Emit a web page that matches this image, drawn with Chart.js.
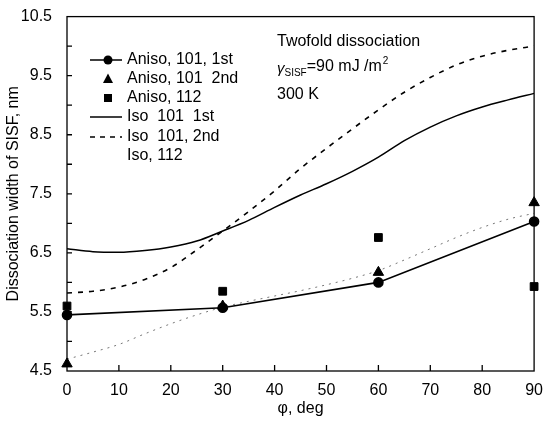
<!DOCTYPE html>
<html>
<head>
<meta charset="utf-8">
<script src="https://cdn.jsdelivr.net/npm/chart.js@4.4.1/dist/chart.umd.min.js"></script>
<style>
  html, body { margin: 0; padding: 0; background: #fff; }
  #wrap { width: 545px; height: 422px; }
</style>
</head>
<body>
<div id="wrap"><canvas id="chart" width="545" height="422"></canvas></div>
<script>
// measured points (phi, deg)
const anisoX = [0, 30, 60, 90];
const aniso101First = [5.45, 5.57, 6.0, 7.03];
const aniso101Second = [4.62, 5.6, 6.17, 7.35];
const aniso112 = [5.6, 5.85, 6.76, 5.93];

// model curves
const isoX = [0, 5, 10, 15, 20, 25, 30, 35, 40, 45, 50, 55, 60, 65, 70, 75, 80, 85, 90];
const iso101First = [6.57, 6.52, 6.51, 6.54, 6.6, 6.7, 6.87, 7.05, 7.27, 7.48, 7.67, 7.88, 8.12, 8.4, 8.63, 8.82, 8.97, 9.09, 9.2];
const iso101Second = [5.82, 5.85, 5.92, 6.05, 6.25, 6.55, 6.87, 7.2, 7.55, 7.93, 8.27, 8.6, 8.92, 9.22, 9.47, 9.68, 9.83, 9.93, 10.0];
const iso112 = [4.7, 4.82, 4.95, 5.13, 5.3, 5.45, 5.58, 5.68, 5.77, 5.86, 5.96, 6.07, 6.2, 6.38, 6.57, 6.76, 6.93, 7.07, 7.17];

const legendLabels = ['Aniso, 101, 1st', 'Aniso, 101  2nd', 'Aniso, 112', 'Iso  101  1st', 'Iso  101, 2nd', 'Iso, 112'];
const noteLines = ['Twofold dissociation', '300 K'];

const FONT = '"Liberation Sans", Arial, sans-serif';

function pairs(xs, ys) {
    return xs.map((x, i) => ({ x: x, y: ys[i] }));
}

// frame and inward tick marks
const framePlugin = {
    id: 'frame',
    afterDraw(chart) {
        const ctx = chart.ctx;
        const a = chart.chartArea;
        const xs = chart.scales.x;
        const ys = chart.scales.y;
        ctx.save();
        ctx.strokeStyle = '#000';
        ctx.lineWidth = 1.3;
        ctx.strokeRect(a.left, a.top, a.right - a.left, a.bottom - a.top);
        ctx.beginPath();
        for (let v = 10; v < 90; v += 10) {
            const px = xs.getPixelForValue(v);
            ctx.moveTo(px, a.bottom);
            ctx.lineTo(px, a.bottom - 6);
        }
        for (let v = 5; v < 10.5; v += 0.5) {
            const py = ys.getPixelForValue(v);
            ctx.moveTo(a.left, py);
            ctx.lineTo(a.left + 5, py);
        }
        ctx.stroke();
        ctx.restore();
    }
};

// legend box in the upper left and the notes
const notesPlugin = {
    id: 'notes',
    afterDraw(chart) {
        const ctx = chart.ctx;
        ctx.save();
        ctx.fillStyle = '#000';
        ctx.strokeStyle = '#000';
        ctx.font = '16px ' + FONT;
        ctx.textBaseline = 'middle';
        const rows = [60, 79, 98, 117, 137, 156];
        const x0 = 90, x1 = 122, tx = 127;
        legendLabels.forEach((label, i) => {
            ctx.fillText(label, tx, rows[i]);
        });
        const mid = (x0 + x1) / 2 + 2;
        // row 0: line + circle
        ctx.lineWidth = 1.5;
        ctx.beginPath();
        ctx.moveTo(x0, rows[0]); ctx.lineTo(x1, rows[0]); ctx.stroke();
        ctx.beginPath(); ctx.arc(mid, rows[0], 4.5, 0, Math.PI * 2); ctx.fill();
        // row 1: triangle
        ctx.beginPath();
        ctx.moveTo(mid, rows[1] - 5.5);
        ctx.lineTo(mid + 5, rows[1] + 4);
        ctx.lineTo(mid - 5, rows[1] + 4);
        ctx.closePath(); ctx.fill();
        // row 2: square
        ctx.fillRect(mid - 4, rows[2] - 4, 8, 8);
        // row 3: solid
        ctx.beginPath(); ctx.moveTo(x0, rows[3]); ctx.lineTo(x1, rows[3]); ctx.stroke();
        // row 4: dashed
        ctx.setLineDash([5, 5]);
        ctx.beginPath(); ctx.moveTo(x0, rows[4]); ctx.lineTo(x1, rows[4]); ctx.stroke();
        ctx.setLineDash([]);

        // notes
        const nx = 277;
        ctx.fillText(noteLines[0], nx, 42);
        ctx.font = 'italic 15px ' + FONT;
        ctx.fillText('\u03b3', nx, 69);
        let w = ctx.measureText('\u03b3').width;
        ctx.font = '10px ' + FONT;
        ctx.fillText('SISF', nx + w, 73);
        w += ctx.measureText('SISF').width;
        ctx.font = '16px ' + FONT;
        ctx.fillText('=90 mJ /m', nx + w, 67);
        w += ctx.measureText('=90 mJ /m').width;
        ctx.font = '10px ' + FONT;
        ctx.fillText('2', nx + w + 1, 61);
        ctx.font = '16px ' + FONT;
        ctx.fillText(noteLines[1], nx, 95);
        ctx.restore();
    }
};

const ctx = document.getElementById('chart').getContext('2d');
new Chart(ctx, {
    type: 'line',
    data: {
        datasets: [
            {
                label: 'Aniso, 101, 1st',
                data: pairs(anisoX, aniso101First),
                borderColor: '#000', backgroundColor: '#000', borderWidth: 1.6,
                pointStyle: 'circle', pointRadius: 4.5, tension: 0, clip: false
            },
            {
                label: 'Aniso, 101 2nd',
                data: pairs(anisoX, aniso101Second),
                showLine: false, borderColor: '#000', backgroundColor: '#000',
                pointStyle: 'triangle', pointRadius: 6, clip: false
            },
            {
                label: 'Aniso, 112',
                data: pairs(anisoX, aniso112),
                showLine: false, borderColor: '#000', backgroundColor: '#000',
                pointStyle: 'rect', pointRadius: 5.5, clip: false
            },
            {
                label: 'Iso 101 1st',
                data: pairs(isoX, iso101First),
                borderColor: '#000', borderWidth: 1.5, pointRadius: 0,
                cubicInterpolationMode: 'monotone'
            },
            {
                label: 'Iso 101, 2nd',
                data: pairs(isoX, iso101Second),
                borderColor: '#000', borderWidth: 1.6, borderDash: [5, 6], pointRadius: 0,
                cubicInterpolationMode: 'monotone'
            },
            {
                label: 'Iso, 112',
                data: pairs(isoX, iso112),
                borderColor: '#777', borderWidth: 1, borderDash: [2, 5], pointRadius: 0,
                cubicInterpolationMode: 'monotone'
            }
        ]
    },
    options: {
        responsive: false,
        animation: false,
        devicePixelRatio: 1,
        layout: { padding: { left: 0, right: 8, top: 15, bottom: 0 } },
        plugins: {
            legend: { display: false },
            tooltip: { enabled: false }
        },
        scales: {
            x: {
                type: 'linear',
                min: 0, max: 90,
                grid: { display: false },
                border: { display: false },
                ticks: {
                    stepSize: 10, padding: 2, color: '#000',
                    font: { family: FONT, size: 16 }
                },
                title: {
                    display: true, text: '\u03c6, deg', color: '#000',
                    font: { family: FONT, size: 16 }, padding: { top: 0, bottom: 4 }
                },
                afterFit(scale) { scale.height = 51; }
            },
            y: {
                min: 4.5, max: 10.5,
                grid: { display: false },
                border: { display: false },
                ticks: {
                    stepSize: 0.5, padding: 7, color: '#000',
                    font: { family: FONT, size: 16 },
                    autoSkip: false,
                    callback: v => (Math.round(v * 2) % 2 === 1 ? v.toFixed(1) : '')
                },
                title: {
                    display: true, text: 'Dissociation width of SISF, nm', color: '#000',
                    font: { family: FONT, size: 16 }, padding: { top: 4, bottom: 0 }
                },
                afterFit(scale) { scale.width = 67; }
            }
        }
    },
    plugins: [framePlugin, notesPlugin]
});
</script>
</body>
</html>
